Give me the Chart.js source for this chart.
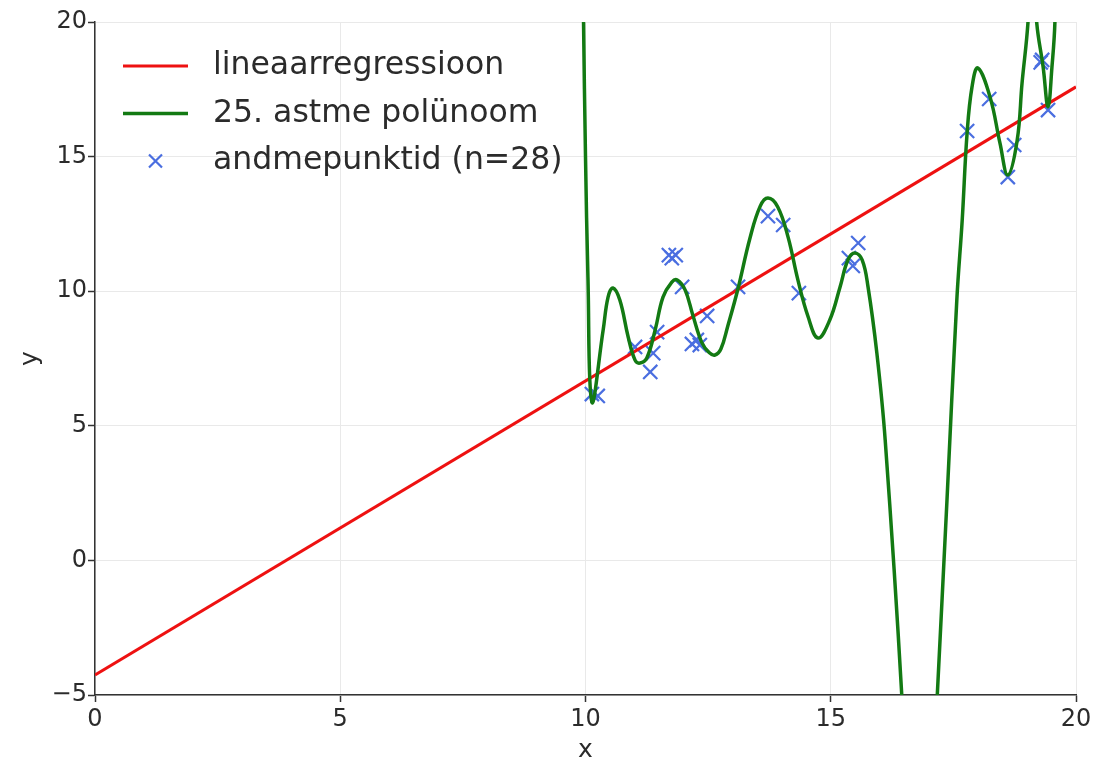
<!DOCTYPE html>
<html>
<head>
<meta charset="utf-8">
<script src="https://cdn.jsdelivr.net/npm/chart.js@4.4.1/dist/chart.umd.min.js"></script>
<style>
    html, body { margin: 0; padding: 0; background: #fff; }
    #wrap { width: 1099px; height: 767px; }
</style>
</head>
<body>
<div id="wrap"><canvas id="canvas"></canvas></div>
<script>
const regX = [0, 20];
const regY = [-4.26, 17.59];

// 25th degree polynomial
const polyX = [9.92, 9.96, 10.00, 10.05, 10.13, 10.36, 10.46, 10.56, 10.70, 10.87, 11.01, 11.11, 11.25, 11.42,
    11.58, 11.76, 11.87, 12.03, 12.19, 12.37, 12.52, 12.64, 12.76, 12.90, 13.11, 13.35, 13.56, 13.72, 13.92,
    14.13, 14.33, 14.54, 14.74, 14.98, 15.19, 15.35, 15.49, 15.64, 15.76, 15.94, 16.11, 16.45, 16.65, 16.80,
    16.95, 17.17, 17.37, 17.57, 17.68, 17.78, 17.88, 18.00, 18.25, 18.45, 18.61, 18.80, 18.90, 19.02, 19.10,
    19.20, 19.33, 19.43, 19.51, 19.57, 19.62];
const polyY = [26, 20, 15, 10.5, 5.88, 8.56, 9.78, 10.12, 9.67, 8.30, 7.44, 7.33, 7.52, 8.56,
    9.78, 10.34, 10.42, 10.05, 9.10, 8.10, 7.72, 7.63, 7.85, 8.70, 10.10, 11.95, 13.15, 13.46, 13.13,
    12.01, 10.42, 9.04, 8.26, 8.93, 10.16, 11.16, 11.42, 11.16, 10.16, 7.70, 4.47, -5.07, -13, -16,
    -13, -5.07, 2.25, 9.67, 12.64, 15.88, 17.59, 18.29, 17.20, 15.50, 14.32, 15.60, 17.73, 19.96, 23,
    19.96, 18.33, 16.84, 18.33, 20, 25];

// data points (n=28)
const pointX = [10.13, 10.25, 11.01, 11.32, 11.38, 11.46, 11.70, 11.84, 11.76, 11.97, 12.17, 12.27, 12.33, 12.48,
    13.11, 13.72, 14.03, 14.35, 15.37, 15.45, 15.56, 17.78, 18.23, 18.61, 18.74, 19.28, 19.31, 19.43];
const pointY = [6.18, 6.11, 7.93, 7.00, 7.70, 8.48, 11.34, 11.34, 11.23, 10.16, 8.04, 8.19, 8.00, 9.08,
    10.16, 12.79, 12.46, 9.93, 11.23, 10.94, 11.79, 15.95, 17.14, 14.24, 15.43, 18.50, 18.59, 16.73];

const labels = ['lineaarregressioon', '25. astme polünoom', 'andmepunktid (n=28)'];

const fontFamily = '"DejaVu Sans", sans-serif';
const textColor = '#2b2b2b';

function toXY(xs, ys) {
    return xs.map((x, i) => ({x: x, y: ys[i]}));
}

function minusSign(value) {
    return String(value).replace('-', '\u2212');
}

// legend drawn inside the plot, top left, like the original
const legendInside = {
    id: 'legendInside',
    afterDatasetsDraw(chart) {
        const ctx = chart.ctx;
        const area = chart.chartArea;
        ctx.save();
        chart.data.datasets.forEach((ds, i) => {
            const y = area.top + 44 + i * 47.5;
            const x0 = area.left + 28;
            const x1 = area.left + 93;
            ctx.strokeStyle = ds.borderColor;
            if (ds.showLine) {
                ctx.lineWidth = ds.borderWidth;
                ctx.beginPath();
                ctx.moveTo(x0, y);
                ctx.lineTo(x1, y);
                ctx.stroke();
            } else {
                const cx = (x0 + x1) / 2, r = 6.5;
                ctx.lineWidth = 2.2;
                ctx.beginPath();
                ctx.moveTo(cx - r, y - r);
                ctx.lineTo(cx + r, y + r);
                ctx.moveTo(cx - r, y + r);
                ctx.lineTo(cx + r, y - r);
                ctx.stroke();
            }
            ctx.fillStyle = textColor;
            ctx.font = '31.5px ' + fontFamily;
            ctx.textBaseline = 'middle';
            ctx.fillText(ds.label, area.left + 118, y);
        });
        ctx.restore();
    }
};

const ctx = document.getElementById('canvas');
new Chart(ctx, {
    type: 'scatter',
    data: {
        datasets: [
            {
                label: labels[0],
                data: toXY(regX, regY),
                showLine: true,
                borderColor: '#ee1111',
                borderWidth: 3,
                pointRadius: 0,
                clip: 0,
                order: 2,
            },
            {
                label: labels[1],
                data: toXY(polyX, polyY),
                showLine: true,
                borderColor: '#137a13',
                borderWidth: 3.5,
                pointRadius: 0,
                tension: 0.4,
                clip: 0,
                order: 1,
            },
            {
                label: labels[2],
                data: toXY(pointX, pointY),
                showLine: false,
                pointStyle: 'crossRot',
                pointRadius: 10,
                borderColor: '#4a6ee0',
                borderWidth: 2.2,
                order: 3,
            },
        ],
    },
    options: {
        responsive: true,
        maintainAspectRatio: false,
        animation: false,
        layout: {
            padding: {left: 0, top: 22, right: 23, bottom: 0},
        },
        plugins: {
            legend: {display: false},
            tooltip: {enabled: false},
        },
        scales: {
            x: {
                type: 'linear',
                min: 0,
                max: 20,
                ticks: {
                    stepSize: 5,
                    color: textColor,
                    font: {family: fontFamily, size: 24},
                    padding: 3,
                    callback: minusSign,
                },
                grid: {
                    color: '#e9e9e9',
                    lineWidth: 1,
                    tickLength: 7,
                    tickColor: '#333',
                    tickWidth: 1.5,
                },
                border: {display: true, color: '#333', width: 1.5},
                title: {
                    display: true,
                    text: 'x',
                    color: textColor,
                    font: {family: fontFamily, size: 25},
                    padding: {top: 0, bottom: 2},
                },
                afterFit(scale) {
                    scale.height = 72;
                },
            },
            y: {
                type: 'linear',
                min: -5,
                max: 20,
                ticks: {
                    stepSize: 5,
                    color: textColor,
                    font: {family: fontFamily, size: 24},
                    padding: 1,
                    callback: minusSign,
                },
                grid: {
                    color: '#e9e9e9',
                    lineWidth: 1,
                    tickLength: 7,
                    tickColor: '#333',
                    tickWidth: 1.5,
                },
                border: {display: true, color: '#333', width: 1.5},
                title: {
                    display: true,
                    text: 'y',
                    color: textColor,
                    font: {family: fontFamily, size: 25},
                    padding: {top: 15, bottom: 0},
                },
                afterFit(scale) {
                    scale.width = 95;
                },
            },
        },
    },
    plugins: [legendInside],
});
</script>
</body>
</html>
